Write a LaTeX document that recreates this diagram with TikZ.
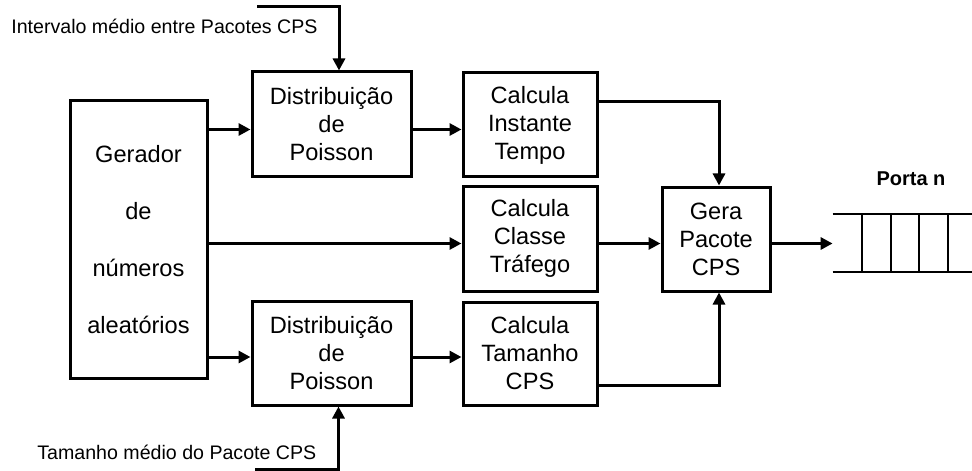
\documentclass[tikz,border=0pt]{standalone}
\usepackage{fontspec}
\setmainfont{Liberation Sans}
\usetikzlibrary{arrows.meta}

\begin{document}
\begin{tikzpicture}[
        x=0.5pt, y=-0.5pt,
        block/.style={draw, line width=1.5pt, align=center, inner sep=0pt,
            font=\fontsize{11.8}{14}\selectfont},
        arr/.style={line width=1.5pt, -{Triangle[length=6pt,width=6pt]}},
        wire/.style={line width=1.3pt},
        note/.style={font=\fontsize{9.8}{11}\selectfont, inner sep=0pt, anchor=base west},
        ]
    \useasboundingbox (0,0) rectangle (972,470);
    % blocks
    \node (gen) [block, minimum width=68.5pt, minimum height=138.5pt,
        font=\fontsize{11.8}{28.5}\selectfont] at (138.5,239.5)
        {Gerador\\de\\números\\aleatórios};
    \node (dist1) [block, minimum width=79.5pt, minimum height=52.5pt] at (331.5,124.5)
        {Distribuição\\de\\Poisson};
    \node (dist2) [block, minimum width=79.5pt, minimum height=52pt] at (331.5,353)
        {Distribuição\\de\\Poisson};
    \node (inst) [block, minimum width=67pt, minimum height=52pt] at (530,125)
        {Calcula\\Instante\\Tempo};
    \node (classe) [block, minimum width=67pt, minimum height=52.5pt] at (530,238.5)
        {Calcula\\Classe\\Tráfego};
    \node (tam) [block, minimum width=67pt, minimum height=51.5pt] at (530,353.5)
        {Calcula\\Tamanho\\CPS};
    \node (gera) [block, minimum width=54pt, minimum height=52pt] at (716,239)
        {Gera\\Pacote\\CPS};

    % queue of port n
    \node (fila) [minimum width=69.5pt, minimum height=28.5pt, inner sep=0pt] at (902.5,243) {};
    \draw[wire] (fila.north west) -- (fila.north east)
                (fila.south west) -- (fila.south east);
    \foreach \x in {862,891,919,948}
        \draw[wire] (fila.north -| \x,0) -- (fila.south -| \x,0);
    \node (porta) [font=\bfseries\fontsize{10}{12}\selectfont, anchor=base, inner sep=0pt]
        at (911,185) {Porta n};

    % input parameters
    \node (interv) [note] at (11,34) {Intervalo médio entre Pacotes CPS};
    \node (tammed) [note] at (37,459) {Tamanho médio do Pacote CPS};
    \coordinate (in1) at (257,7);
    \coordinate (in2) at (255,469);

    % connectors
    \coordinate (r1) at (0,129.5);
    \coordinate (r2) at (0,243.5);
    \coordinate (r3) at (0,357);
    \draw[arr] (gen.east |- r1) -- (dist1.west |- r1);
    \draw[arr] (dist1.east |- r1) -- (inst.west |- r1);
    \draw[arr] (gen.east |- r2) -- (classe.west |- r2);
    \draw[arr] (classe.east |- r2) -- (gera.west |- r2);
    \draw[arr] (gera.east |- r2) -- (fila.west |- r2);
    \draw[arr] (gen.east |- r3) -- (dist2.west |- r3);
    \draw[arr] (dist2.east |- r3) -- (tam.west |- r3);
    \draw[arr] ([yshift=11.5pt]inst.east) -| ([xshift=1.5pt]gera.north);
    \draw[arr] ([yshift=-16pt]tam.east) -| ([xshift=1.5pt]gera.south);
    \draw[arr] (in1) -| ([xshift=3.75pt]dist1.north);
    \draw[arr] (in2) -| ([xshift=3.5pt]dist2.south);
\end{tikzpicture}
\end{document}
